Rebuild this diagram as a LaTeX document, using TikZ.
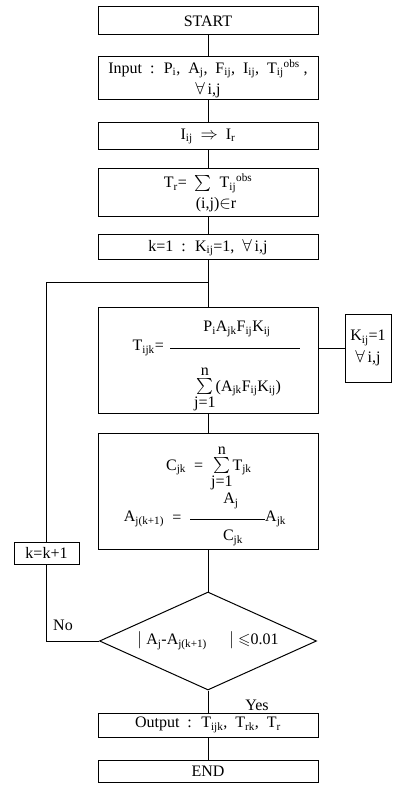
\documentclass[tikz,border=0pt]{standalone}
\usepackage{amsmath, amssymb}
\usepackage{fontspec}
\setmainfont{Liberation Serif}
\usepackage{tikz}
\usetikzlibrary{positioning,shapes.geometric}
\newcommand{\subs}[1]{\textsubscript{#1}}
\newcommand{\sups}[1]{\textsuperscript{#1}}
\tikzset{
  flowline/.style={line width=1pt},
  procbox/.style={draw, line width=1pt, minimum width=220pt, minimum height=26pt, align=center, inner sep=2pt},
  sidebox/.style={draw, line width=1pt, align=center, inner sep=1pt},
  decision/.style={draw, line width=1pt, diamond, aspect=2.2, minimum width=217pt, minimum height=98pt, inner sep=0pt},
  part/.style={inner sep=0pt}
}
\begin{document}
\begin{tikzpicture}[x=1pt, y=-1pt, every node/.style={font=\fontsize{16}{19}\selectfont}]
      \useasboundingbox (0,0) rectangle (392,791);
      \node[procbox, minimum height=28pt] (start) at (208,21) {START};
      \node[procbox, minimum height=43pt] (input) at (208,78.5) {Input \ : \ P\subs{i}, \ A\subs{j}, \ F\subs{ij}, \ I\subs{ij}, \ T\subs{ij}\sups{obs} ,\\[2pt] $\forall$\,i,j};
      \node[procbox, minimum height=27pt] (iij) at (208,136.5) {I\subs{ij} \ $\Rightarrow$ \ I\subs{r}};
      \node[procbox, minimum height=48pt] (tr) at (208,193) {T\subs{r}= \ $\sum$ \ T\subs{ij}\sups{obs}\\[2pt] \hspace{1em}(i,j)$\in$r};
      \node[procbox, minimum height=25pt] (kinit) at (208,247.5) {k=1 \ : \ K\subs{ij}=1, \ $\forall$\,i,j};
      \coordinate (merge) at (208,282);
      % flow formula
      \node[procbox, minimum height=106pt] (flow) at (208,360) {};
      \node[part, anchor=east] (tlhs) at (164,348) {T\subs{ijk}=};
      \coordinate (fl) at (170,348);
      \coordinate (fr) at (300,348);
      \node[part] (fnum) at (237,329) {P\subs{i}A\subs{jk}F\subs{ij}K\subs{ij}};
      \node[part, anchor=base west] (fsum) at (194,391) {$\sum\limits_{\mbox{j=1}}^{\mbox{n}}$(A\subs{jk}F\subs{ij}K\subs{ij})};
      \draw[flowline] (fl) -- (fr);
      \node[sidebox, minimum width=46pt, minimum height=68pt] (kone) at (368,348) {K\subs{ij}=1\\[3pt]$\forall$\,i,j};
      % balancing
      \node[procbox, minimum height=116pt] (norm) at (208,491) {};
      \node[part, anchor=base west] (csum) at (166,470) {C\subs{jk} \ = \ $\sum\limits_{\mbox{j=1}}^{\mbox{n}}$T\subs{jk}};
      \node[part] (aj) at (231,501) {A\subs{j}};
      \node[part] (alhs) at (144,519) {A\subs{j(k+1)}};
      \node[part] (aeq) at (177,519) {=};
      \coordinate (al) at (190,519);
      \coordinate (ar) at (265,519);
      \node[part, anchor=west] (ajk) at (ar) {A\subs{jk}};
      \node[part] (cjk) at (233,538) {C\subs{jk}};
      \draw[flowline] (al) -- (ar);
      \node[decision] (test) at (208,641) {$|$ A\subs{j}-A\subs{j(k+1)}\hspace{1.4em}$|$ $\leqslant$0.01};
      \node[sidebox, minimum width=65pt, minimum height=22pt] (kinc) at (46.5,553) {k=k+1};
      \node[procbox, minimum height=24pt] (output) at (208,725) {Output \ : \ T\subs{ijk}, \ T\subs{rk}, \ T\subs{r}};
      \node[procbox, minimum height=22pt] (end) at (208,771) {END};
      \node (nolbl) at (63,625) {No};
      \node (yeslbl) at (257,705) {Yes};
      \draw[flowline] (start) -- (input);
      \draw[flowline] (input) -- (iij);
      \draw[flowline] (iij) -- (tr);
      \draw[flowline] (tr) -- (kinit);
      \draw[flowline] (kinit) -- (flow);
      \draw[flowline] (flow) -- (norm);
      \draw[flowline] (norm) -- (test);
      \draw[flowline] (test) -- (output);
      \draw[flowline] (output) -- (end);
      \draw[flowline] (kone.west) -- (kone.west -| flow.east);
      \draw[flowline] (test.west) -- (test.west -| kinc) -- (kinc.south);
      \draw[flowline] (kinc.north) -- (kinc |- merge) -- (merge);
    \end{tikzpicture}
\end{document}
